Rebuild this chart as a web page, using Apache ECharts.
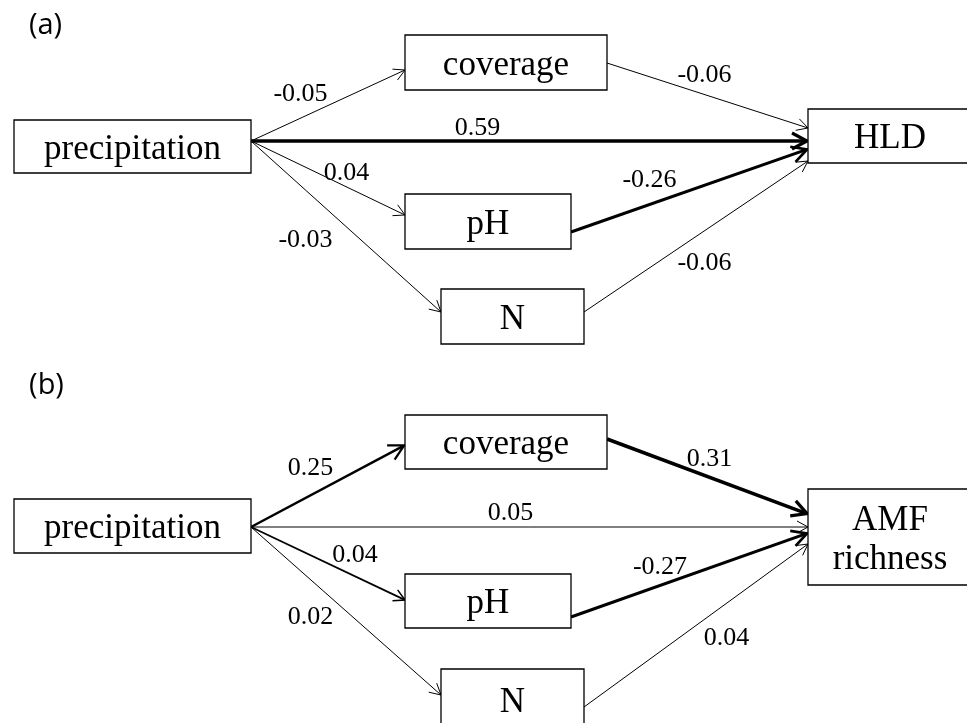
<!DOCTYPE html>
<html>
<head>
<meta charset="utf-8">
<script src="https://cdn.jsdelivr.net/npm/echarts@6/dist/echarts.min.js"></script>
<style>html,body{margin:0;padding:0;background:#fff;}#main{width:967px;height:723px;}</style>
</head>
<body>
<div id="main"></div>
<script>
// ---- data ----
const panelTags = ['(a)', '(b)'];
const nodeNamesA = ['precipitation', 'coverage', 'pH', 'N', 'HLD'];
const nodeNamesB = ['precipitation', 'coverage', 'pH', 'N', 'AMF\nrichness'];
const edgeFrom = [0, 0, 0, 0, 1, 2, 3];
const edgeTo   = [1, 4, 2, 3, 4, 4, 4];
const coefA = [-0.05, 0.59, 0.04, -0.03, -0.06, -0.26, -0.06];
const coefB = [0.25, 0.05, 0.04, 0.02, 0.31, -0.27, 0.04];

// ---- layout (diagram units) ----
const tagPos = [[45.5, 25.5], [46.5, 385.5]];
const boxesA = [[14,120,251,173],[405,35,607,90],[405,194,571,249],[441,289,584,344],[808,109,972,163]];
const boxesB = [[14,499,251,553],[405,415,607,469],[405,574,571,628],[441,669,584,730],[808,489,972,585]];
const anchorsA = [[141,70],[141,141],[141,215],[141,312],[63,128],[232,149],[312,161]];
const anchorsB = [[527,445],[527,527],[527,600],[527,695],[439,514],[617,533],[707,544]];
const labelPosA = [[300.5,94],[477.5,128],[346.5,173],[305.5,240],[704.5,75],[649.5,180],[704.5,263.5]];
const labelPosB = [[310.5,468.5],[510.5,513.5],[355,555],[310.5,617],[709.5,459.5],[660,567],[726.5,638.5]];

// ---- styles ----
const widthA = [1, 3.5, 1, 1, 1, 3, 1];
const widthB = [2.5, 1, 1.7, 1, 3.5, 3, 1];
const SERIF = '"Liberation Serif", "Times New Roman", serif';

const panels = [
  {names: nodeNamesA, coef: coefA, boxes: boxesA, anchors: anchorsA, labels: labelPosA, widths: widthA},
  {names: nodeNamesB, coef: coefB, boxes: boxesB, anchors: anchorsB, labels: labelPosB, widths: widthB}
];

const nodeData = [], edgeData = [];
panels.forEach((p, pi) => {
  p.names.forEach((n, i) => nodeData.push([pi, i]));
  p.coef.forEach((c, i) => edgeData.push([pi, i]));
});

function renderNode(params, api) {
  const pi = api.value(0), i = api.value(1);
  const p = panels[pi];
  const b = p.boxes[i];
  const a = api.coord([b[0], b[1]]), c = api.coord([b[2], b[3]]);
  const cx = (a[0] + c[0]) / 2, cy = (a[1] + c[1]) / 2;
  return {
    type: 'group',
    children: [
      {type: 'rect', shape: {x: a[0], y: a[1], width: c[0] - a[0], height: c[1] - a[1]},
       style: {fill: '#fff', stroke: '#000', lineWidth: 1.3}},
      {type: 'text', style: {text: p.names[i], x: cx, y: cy + 3,
        align: 'center', verticalAlign: 'middle', textAlign: 'center', textVerticalAlign: 'middle',
        fontFamily: SERIF, fontSize: 35, lineHeight: 39, fill: '#000'}}
    ]
  };
}

function renderEdge(params, api) {
  const pi = api.value(0), i = api.value(1);
  const p = panels[pi];
  const s = p.boxes[edgeFrom[i]], t = p.boxes[edgeTo[i]];
  const an = p.anchors[i];
  const P0 = api.coord([s[2], an[0]]);
  const P1 = api.coord([t[0], an[1]]);
  const w = p.widths[i];
  const dx = P1[0] - P0[0], dy = P1[1] - P0[1];
  const len = Math.sqrt(dx * dx + dy * dy);
  const ux = dx / len, uy = dy / len;
  const nx = -uy, ny = ux;
  const L = w > 2 ? 15 : 11, W = w > 2 ? 8 : 6;
  const tip = [P1[0] - ux * (w > 2 ? 1 : 0), P1[1] - uy * (w > 2 ? 1 : 0)];
  const w1 = [tip[0] - ux * L + nx * W, tip[1] - uy * L + ny * W];
  const w2 = [tip[0] - ux * L - nx * W, tip[1] - uy * L - ny * W];
  return {
    type: 'group',
    children: [
      {type: 'line', shape: {x1: P0[0], y1: P0[1], x2: tip[0] - ux * w * 0.5, y2: tip[1] - uy * w * 0.5},
       style: {stroke: '#000', lineWidth: w, lineCap: 'butt'}},
      {type: 'polyline', shape: {points: [w1, tip, w2]},
       style: {stroke: '#000', fill: null, lineWidth: Math.max(1, w * 0.9), lineJoin: 'miter'}}
    ]
  };
}

function renderLabel(params, api) {
  const pi = api.value(0), i = api.value(1);
  const p = panels[pi];
  const pos = api.coord(p.labels[i]);
  return {type: 'text', style: {text: p.coef[i].toFixed(2), x: pos[0], y: pos[1],
    align: 'center', verticalAlign: 'middle', textAlign: 'center', textVerticalAlign: 'middle',
    fontFamily: SERIF, fontSize: 26, fill: '#000'}};
}

function renderTag(params, api) {
  const i = api.value(0);
  const pos = api.coord(tagPos[i]);
  return {type: 'text', style: {text: panelTags[i], x: pos[0], y: pos[1],
    align: 'center', verticalAlign: 'middle', textAlign: 'center', textVerticalAlign: 'middle',
    fontFamily: '"Open Sans", "Noto Sans", sans-serif', fontSize: 29, fill: '#000'}};
}

const chart = echarts.init(document.getElementById('main'), null, {renderer: 'canvas'});
chart.setOption({
  backgroundColor: '#fff',
  animation: false,
  grid: {left: 0, right: 0, top: 0, bottom: 0},
  xAxis: {type: 'value', min: 0, max: 967, show: false},
  yAxis: {type: 'value', min: 0, max: 723, inverse: true, show: false},
  series: [
    {type: 'custom', renderItem: renderEdge, data: edgeData, silent: true, clip: false, z: 1},
    {type: 'custom', renderItem: renderNode, data: nodeData, silent: true, clip: false, z: 2},
    {type: 'custom', renderItem: renderLabel, data: edgeData, silent: true, clip: false, z: 3},
    {type: 'custom', renderItem: renderTag, data: panelTags.map((t, i) => [i]), silent: true, clip: false, z: 3}
  ]
});
</script>
</body>
</html>
